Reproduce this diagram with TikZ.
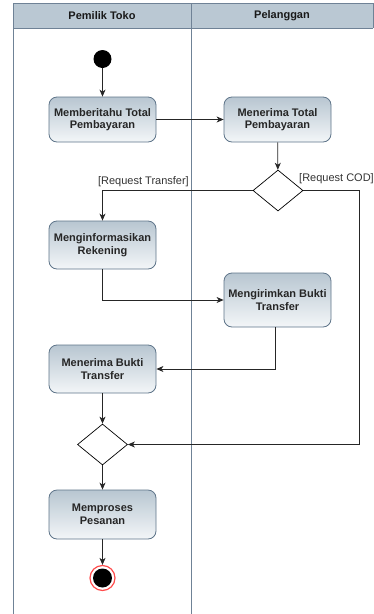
\documentclass[tikz,border=0pt]{standalone}
\usepackage{fontspec}
\setmainfont{Liberation Sans}
\usetikzlibrary{shapes.geometric,arrows.meta}
\definecolor{hdr}{HTML}{BAC8D3}
\definecolor{lanecol}{HTML}{6F8296}
\definecolor{boxline}{HTML}{5E7489}
\definecolor{boxtop}{HTML}{B8C6D1}
\definecolor{boxbot}{HTML}{F3F6F8}
\tikzset{
  actbox/.style={draw=boxline, line width=0.8pt, rounded corners=8pt, top color=boxtop, bottom color=boxbot,
    minimum width=107pt, align=center, font=\fontsize{11}{12.5}\selectfont\bfseries, text=black!85, inner sep=0pt},
  decis/.style={diamond, draw=black, line width=0.7pt, fill=white, minimum width=50pt, minimum height=41pt, inner sep=0pt},
  flow/.style={draw=black!85, line width=0.8pt, -{Stealth[length=7pt,width=6pt,inset=2pt]}},
  guard/.style={font=\fontsize{11}{12}\selectfont, text=black!80, inner sep=0pt},
  hdrtext/.style={font=\fontsize{11}{12}\selectfont\bfseries, text=black!90},
}
\begin{document}
\begin{tikzpicture}[x=1pt,y=-1pt]
\useasboundingbox (0,0) rectangle (374,614);
\clip (0,0) rectangle (374,614);
% lanes
\fill[hdr] (13,3.5) rectangle (373,28);
\draw[lanecol, line width=0.8pt] (13,630) -- (13,3.5) -- (373,3.5) -- (373,28);
\draw[lanecol, line width=0.8pt] (13,28) -- (373,28);
\draw[lanecol, line width=0.8pt] (191,3.5) -- (191,630);
\node[hdrtext] (h1) at (102,16) {Pemilik Toko};
\node[hdrtext] (h2) at (282,16) {Pelanggan};
% nodes
\node[circle, fill=black, minimum size=18pt, inner sep=0pt] (start) at (102.5,59) {};
\node[actbox, minimum height=45pt] (b1) at (102.5,119.5) {Memberitahu Total\\Pembayaran};
\node[actbox, minimum height=45pt] (b2) at (277.5,119.5) {Menerima Total\\Pembayaran};
\node[decis] (d1) at (278,190.5) {};
\node[actbox, minimum height=48pt] (b3) at (102.5,245) {Menginformasikan\\Rekening};
\node[actbox, minimum height=54pt] (b4) at (277.5,300) {Mengirimkan Bukti\\Transfer};
\node[actbox, minimum height=48pt] (b5) at (102.5,369) {Menerima Bukti\\Transfer};
\node[decis] (d2) at (102.5,444.5) {};
\node[actbox, minimum height=49pt] (b6) at (102.5,514.5) {Memproses\\Pesanan};
\node[circle, draw=red!70, line width=1.2pt, fill=white, minimum size=25pt, inner sep=0pt] (end) at (102.5,578) {};
\node[circle, fill=black, minimum size=19pt, inner sep=0pt] (endin) at (end.center) {};
\coordinate (codc) at (359,190.5);
% edges
\draw[flow] (start) -- (b1);
\draw[flow] (b1) -- (b2);
\draw[flow] (b2) -- (d1);
\draw[flow] (d1.west) -| (b3.north);
\node[guard, anchor=south east] (lt) at (189,186.5) {[Request Transfer]};
\draw[flow] (d1.east) -- (codc) |- (d2.east);
\node[guard, anchor=south west] (lc) at (299,184) {[Request COD]};
\draw[flow] (b3.south) |- (b4.west);
\draw[flow] ([xshift=-2.5pt]b4.south) |- (b5.east);
\draw[flow] (b5) -- (d2);
\draw[flow] (d2) -- (b6);
\draw[flow] (b6) -- (end);
\end{tikzpicture}
\end{document}
